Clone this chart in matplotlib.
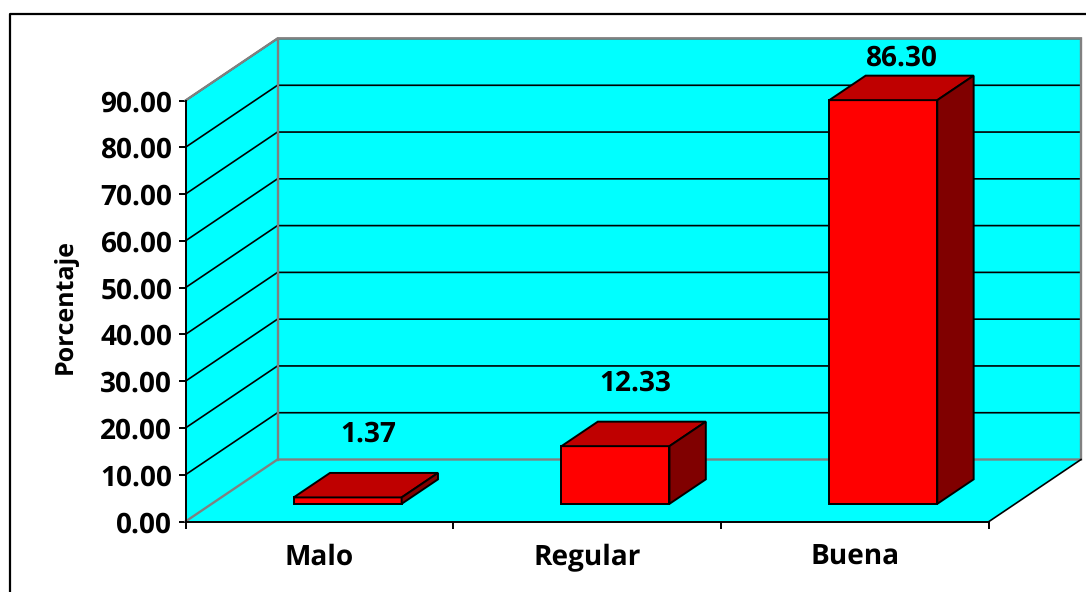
import matplotlib
matplotlib.use("Agg")
import matplotlib.pyplot as plt
from matplotlib.patches import Polygon
from matplotlib.lines import Line2D

plt.rcParams["text.hinting"] = "no_hinting"
plt.rcParams["text.hinting_factor"] = 1

categories = ["Malo", "Regular", "Buena"]
values = [1.37, 12.33, 86.30]
value_labels = ["1.37", "12.33", "86.30"]
y_ticks = [0, 10, 20, 30, 40, 50, 60, 70, 80, 90]
y_tick_labels = ["0.00", "10.00", "20.00", "30.00", "40.00", "50.00", "60.00", "70.00", "80.00", "90.00"]
y_title = "Porcentaje"

W, H = 1086, 592
FONT = "Open Sans"
FS = 20
CYAN, GREY = "#00FFFF", "#808080"
FRONT, TOP, SIDE = "#FF0000", "#BF0000", "#800000"

fig = plt.figure(figsize=(W / 100, H / 100), dpi=100, facecolor="white")
# axes = front plane of the 3D box
L, R, T, B = 185.5, 989, 100.5, 521.5
ax = fig.add_axes([L / W, 1 - B / H, (R - L) / W, (B - T) / H], facecolor="none")
ax.set_xlim(0, 3)
ax.set_ylim(0, 90)

# outer frame (runs off the right and bottom of the picture)
fig.add_artist(Line2D([9.5 / W, 9.5 / W, 1], [0, 1 - 14 / H, 1 - 14 / H],
                      color="black", lw=1.6, transform=fig.transFigure))

DX = 92 / ((R - L) / 3)       # depth in category units
DY = 62 / ((B - T) / 90)      # depth in value units


def P(x, y, d):
    return (x + d * DX, y + d * DY)


def poly(pts, fc, ec="black", lw=1.4, z=2):
    ax.add_patch(Polygon(pts, closed=True, facecolor=fc, edgecolor=ec, linewidth=lw,
                         clip_on=False, zorder=z, joinstyle="miter"))


# walls and floor
poly([P(0, 0, 0), P(3, 0, 0), P(3, 0, 1), P(0, 0, 1)], CYAN, "none", 0, 1)
poly([P(0, 0, 0), P(0, 90, 0), P(0, 90, 1), P(0, 0, 1)], CYAN, "none", 0, 1)
poly([P(0, 0, 1), P(3, 0, 1), P(3, 90, 1), P(0, 90, 1)], CYAN, "none", 0, 1)

# gridlines
for v in y_ticks[1:]:
    ax.plot(*zip(P(0, v, 0), P(0, v, 1), P(3, v, 1)), color="black", lw=1.2,
            clip_on=False, zorder=1.5, solid_joinstyle="miter")

# grey wall outlines
ax.plot(*zip(P(0, 0, 0), P(0, 0, 1), P(3, 0, 1), P(3, 90, 1), P(0, 90, 1), P(0, 90, 0)),
        color=GREY, lw=1.7, clip_on=False, zorder=1.7, solid_joinstyle="miter")
ax.plot(*zip(P(0, 0, 1), P(0, 90, 1)), color=GREY, lw=1.7, clip_on=False, zorder=1.7)
# floor right edge
ax.plot(*zip(P(3, 0, 0), P(3, 0, 1)), color="black", lw=1.2, clip_on=False, zorder=1.8)

# bars
BAR_W = 108 / ((R - L) / 3)
SHIFT = 2 / ((R - L) / 3)
D0, D1 = 0.285, 0.68
label_dx = [-16, -17, -19]
label_rise = [25, 24, 3]
for i, v in enumerate(values):
    c = i + 0.5 + SHIFT
    x0, x1 = c - BAR_W / 2, c + BAR_W / 2
    z = 3 + i
    poly([P(x0, 0, D0), P(x1, 0, D0), P(x1, v, D0), P(x0, v, D0)], FRONT, z=z)
    poly([P(x0, v, D0), P(x1, v, D0), P(x1, v, D1), P(x0, v, D1)], TOP, z=z)
    poly([P(x1, 0, D0), P(x1, 0, D1), P(x1, v, D1), P(x1, v, D0)], SIDE, z=z)
    ax.annotate(value_labels[i], xy=P(c, v, D1), xytext=(label_dx[i], label_rise[i]),
                textcoords="offset pixels", ha="center", va="bottom",
                fontfamily=FONT, fontweight="bold", fontsize=FS, color="black", zorder=10,
                annotation_clip=False)

# axes, ticks and labels
for s in ("top", "right"):
    ax.spines[s].set_visible(False)
for s in ("left", "bottom"):
    ax.spines[s].set_linewidth(1.4)
    ax.spines[s].set_zorder(2.5)
ax.set_yticks(y_ticks, y_tick_labels)
ax.set_xticks([0, 1, 2, 3], [])
ax.set_xticks([0.5, 1.5, 2.5], categories, minor=True)
ax.tick_params(axis="y", length=5, width=1.4, pad=4.5, labelsize=FS)
ax.tick_params(axis="x", which="major", length=5, width=1.4)
ax.tick_params(axis="x", which="minor", length=0, pad=16, labelsize=FS)
for t in ax.get_yticklabels() + ax.get_xticklabels(minor=True):
    t.set_fontfamily(FONT)
    t.set_fontweight("bold")
ax.set_ylabel(y_title, fontfamily=FONT, fontweight="bold", fontsize=18.2, labelpad=8)
ax.yaxis.set_label_coords(-0.134, 0.51)

fig.savefig("out.png", dpi=100)
